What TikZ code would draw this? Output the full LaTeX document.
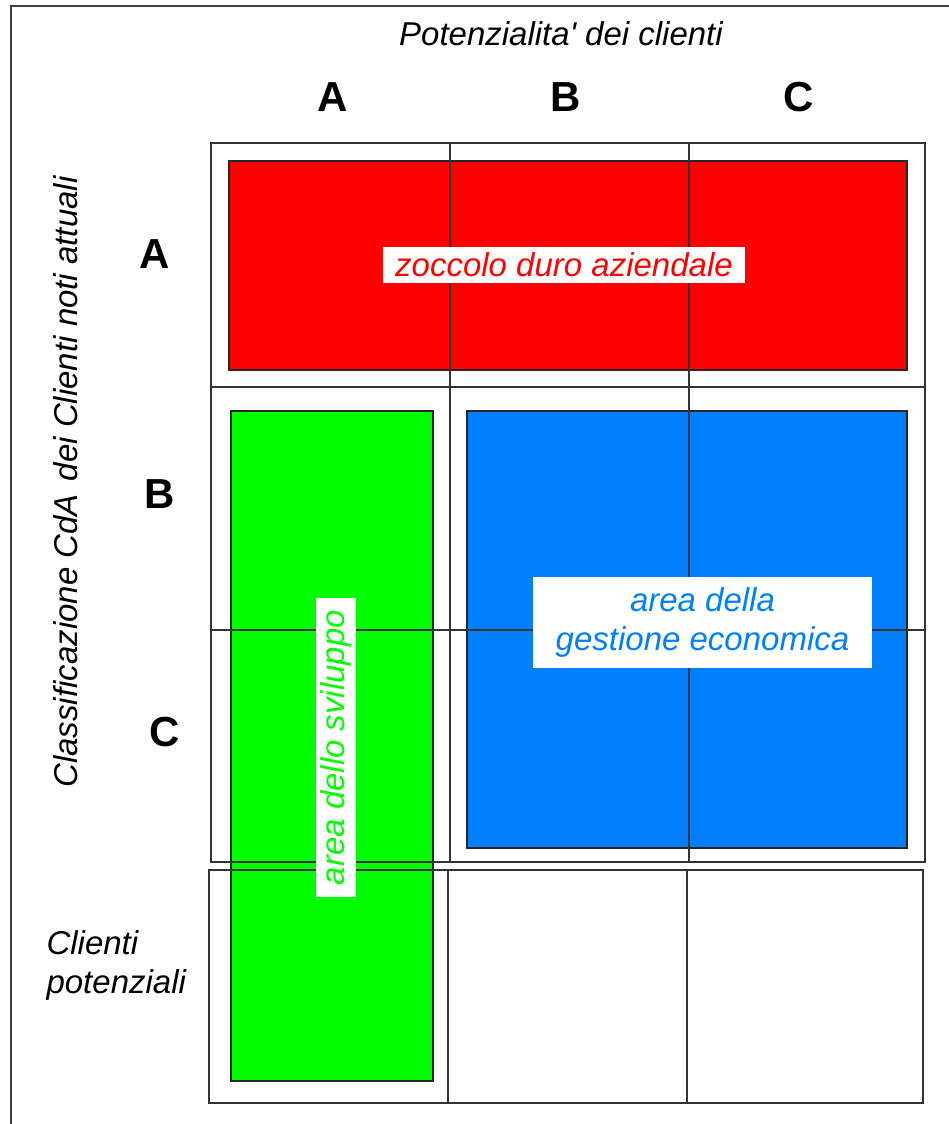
\documentclass[tikz,border=0pt]{standalone}
\usepackage{fontspec}
\setmainfont{Liberation Sans}
\usetikzlibrary{positioning}

\definecolor{zocRed}{RGB}{255,0,0}
\definecolor{svilGreen}{RGB}{0,255,0}
\definecolor{gestBlue}{RGB}{0,128,255}

\begin{document}
\begin{tikzpicture}[
  x=1pt, y=-1pt,
  cornice/.style={draw=black!75, line width=2.8pt},
  griglia/.style={draw=black!80, line width=1.6pt},
  zona/.style={draw=black!85, line width=1.5pt},
  lettera/.style={font=\fontsize{42}{42}\selectfont\bfseries},
  testo/.style={font=\fontsize{33}{39}\selectfont\itshape},
  etichetta/.style={testo, fill=white, inner sep=0pt, align=center}
]
  \useasboundingbox (0,0) rectangle (949,1124);

  % Outer frame
  \draw[cornice] (11,1124) -- (11,6) -- (949,6);

  % Coloured areas
  \draw[zona, fill=zocRed] (229,161) rectangle (907,370);
  \draw[zona, fill=svilGreen] (231,411) rectangle (433,1081);
  \draw[zona, fill=gestBlue] (467,411) rectangle (907,848);

  % Grid of known clients
  \draw[griglia] (211,143) rectangle (925,862);
  \draw[griglia] (450,143) -- (450,862) (689,143) -- (689,862)
                 (211,387) -- (925,387) (211,630) -- (925,630);

  % Row of potential clients
  \draw[griglia] (209,870) rectangle (923,1103);
  \draw[griglia] (448,870) -- (448,1103) (687,870) -- (687,1103);

  % Column headings
  \node[testo] (titoloPot) at (561,34) {Potenzialita\textquotesingle{} dei clienti};
  \node[lettera] (colA) at (333,97) {A};
  \node[lettera] (colB) at (566,97) {B};
  \node[lettera] (colC) at (799,97) {C};

  % Row headings
  \node[testo, rotate=90] (titoloCdA) at (66,482) {Classificazione CdA\hspace{4pt} dei Clienti noti attuali};
  \node[lettera] (rigaA) at (155,254) {A};
  \node[lettera] (rigaB) at (160,494) {B};
  \node[lettera] (rigaC) at (165,732) {C};
  \node[testo, align=left, anchor=west] (potenziali) at (43,965) {Clienti\\potenziali};

  % Area labels
  \node[etichetta, text=zocRed, minimum width=362pt, minimum height=36pt] (zoccolo) at (564,265) {zoccolo duro aziendale};
  \node[etichetta, text=gestBlue, minimum width=339pt, minimum height=91pt] (gestione) at (702.5,622.5) {area della\\gestione economica};
  \node[etichetta, text=svilGreen, rotate=90, minimum width=299pt, minimum height=40pt] (sviluppo) at (336,747.5) {area dello sviluppo};

\end{tikzpicture}
\end{document}
